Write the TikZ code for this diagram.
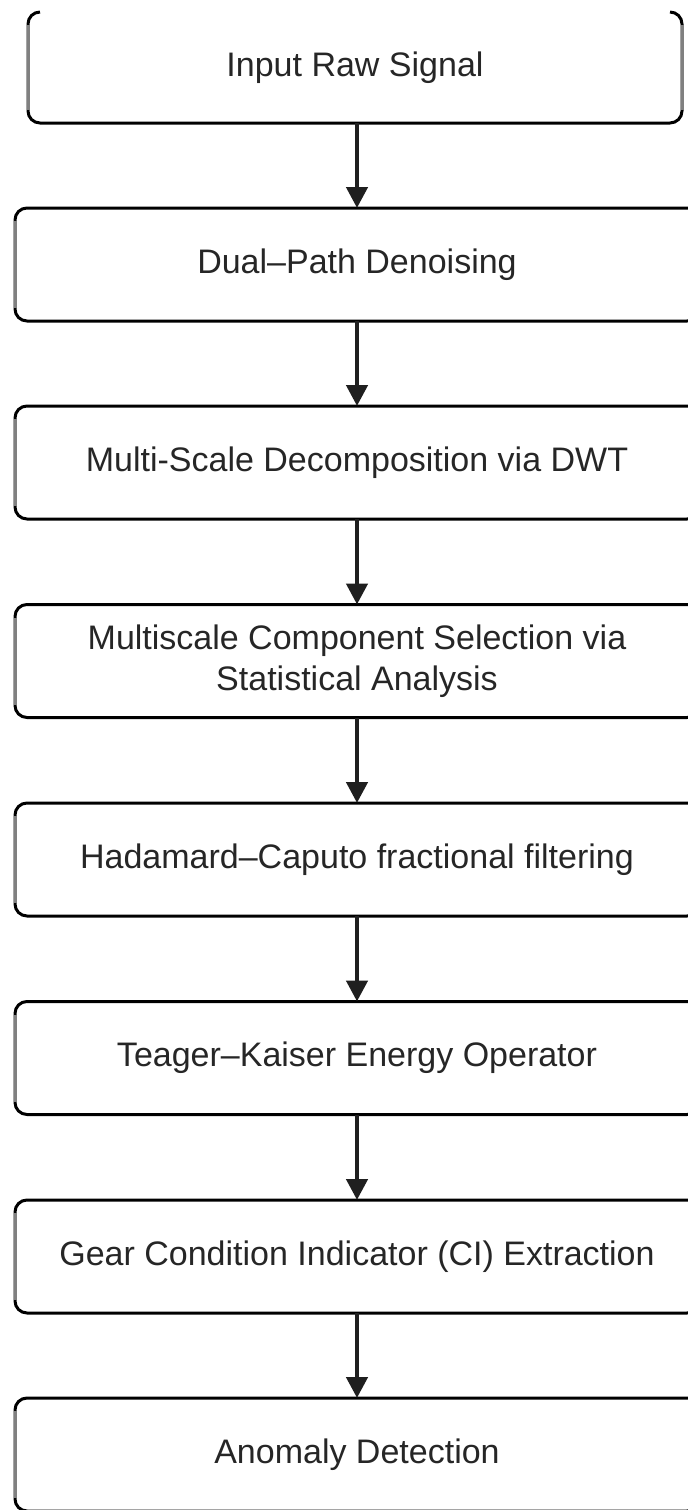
\documentclass[tikz,border=0pt]{standalone}
\usepackage{fontspec}
\setmainfont{Liberation Sans}
\usetikzlibrary{arrows.meta}
\begin{document}
\begin{tikzpicture}[x=1pt,y=-1pt,
  box/.style={draw=black, line width=3pt, rounded corners=12pt, minimum width=684pt,
    minimum height=113pt, inner sep=0pt, outer sep=0pt, align=center,
    font=\fontsize{34}{41}\selectfont, text=black!85},
  flow/.style={draw=black!88, line width=4.5pt, -{Triangle[width=21pt,length=21pt]}},
  leftedge/.style={draw=black!50, line width=3pt}]
\useasboundingbox (0,0) rectangle (688,1510);
\clip (0,0) rectangle (688,1510);
\fill[white] (0,0) rectangle (688,1510);
% first box (no top edge)
\node[box, draw=none, minimum width=654pt, minimum height=111pt] (b1) at (355,67.5) {Input Raw Signal};
\draw[line width=3pt, rounded corners=12pt] ([xshift=12pt]b1.north west) -- (b1.north west) -- (b1.south west) -- (b1.south east) -- (b1.north east) -- ([xshift=-12pt]b1.north east);
\node[box] (b2) at (357,264.5) {Dual–Path Denoising};
\node[box] (b3) at (357,462.5) {Multi-Scale Decomposition via DWT};
\node[box] (b4) at (357,661) {Multiscale Component Selection via\\Statistical Analysis};
\node[box] (b5) at (357,859.5) {Hadamard–Caputo fractional filtering};
\node[box] (b6) at (357,1058) {Teager–Kaiser Energy Operator};
\node[box] (b7) at (357,1256.5) {Gear Condition Indicator (CI) Extraction};
\node[box] (b8) at (357,1454.5) {Anomaly Detection};
\foreach \n in {b1,b2,b3,b4,b5,b6,b7,b8}
  \draw[leftedge] ([yshift=-13pt]\n.north west) -- ([yshift=13pt]\n.south west);
\draw[leftedge] ([yshift=-13pt]b1.north east) -- ([yshift=13pt]b1.south east);
\draw[flow] (b1.south -| b2.north) -- (b2.north);
\draw[flow] (b2) -- (b3);
\draw[flow] (b3) -- (b4);
\draw[flow] (b4) -- (b5);
\draw[flow] (b5) -- (b6);
\draw[flow] (b6) -- (b7);
\draw[flow] (b7) -- (b8);
\end{tikzpicture}
\end{document}
